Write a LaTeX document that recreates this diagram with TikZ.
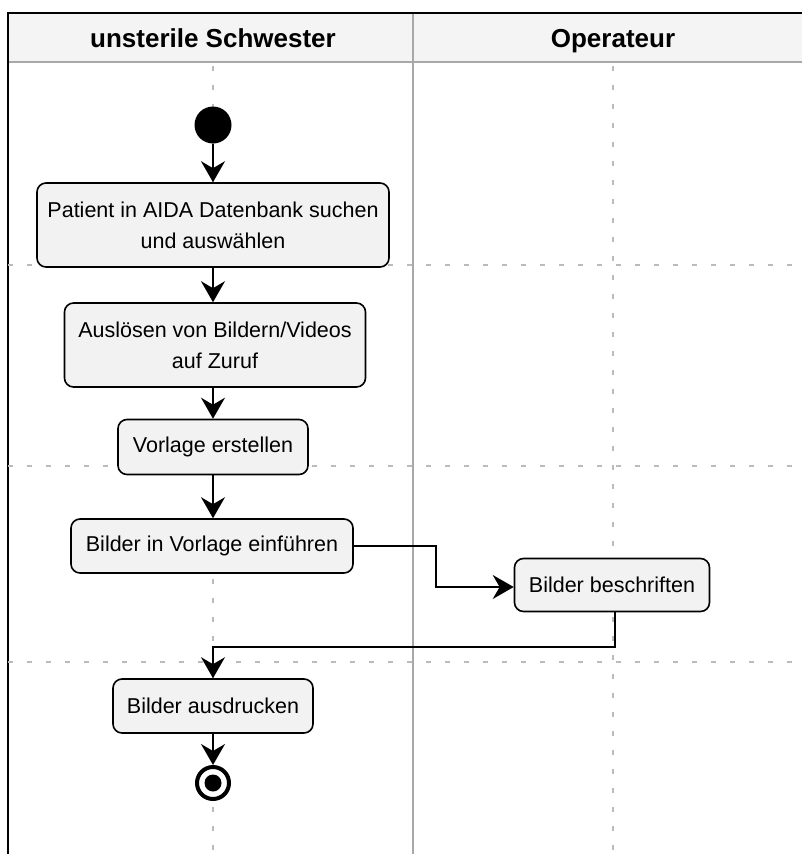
\documentclass[tikz,border=0pt]{standalone}
\usepackage{fontspec}
\setmainfont{Liberation Sans}
\usetikzlibrary{arrows.meta}
\definecolor{boxfill}{HTML}{F2F2F2}
\definecolor{hdrfill}{HTML}{F4F4F4}
\definecolor{gridc}{HTML}{BBBBBB}
\definecolor{lanec}{HTML}{A8A8A8}
\tikzset{
  actbox/.style={draw=black, line width=1.6pt, fill=boxfill, rounded corners=9pt,
    align=center, inner sep=0pt, font=\fontsize{21.5}{31}\selectfont},
  flow/.style={line width=1.8pt, -{Stealth[length=21pt,width=24pt,inset=7pt]}},
  gridline/.style={gridc, line width=1.2pt, dash pattern=on 5pt off 14pt},
  hdr/.style={font=\fontsize{26}{30}\selectfont\bfseries, inner sep=0pt, anchor=base}
}
\begin{document}
\begin{tikzpicture}[x=1pt,y=-1pt]
\useasboundingbox (0,0) rectangle (802,854);
% header
\fill[hdrfill] (8,13) rectangle (802,62);
\draw[lanec, line width=1.5pt] (8,62) -- (802,62);
\draw[lanec, line width=1.5pt] (413,13) -- (413,854);
\draw[black, line width=2pt] (8,854) -- (8,13) -- (802,13);
\node[hdr] (h1) at (213,47) {unsterile Schwester};
\node[hdr] (h2) at (613,47) {Operateur};
% grid lines
\draw[gridline] (213,66) -- (213,854);
\draw[gridline] (613,66) -- (613,854);
\draw[gridline] (8,265) -- (802,265);
\draw[gridline] (8,466) -- (802,466);
\draw[gridline] (8,662) -- (802,662);
% nodes
\node[circle, fill=black, minimum size=37pt, inner sep=0pt] (start) at (213,125) {};
\node[actbox, minimum width=352pt, minimum height=84pt] (n1) at (213,225) {Patient in AIDA Datenbank suchen\\und auswählen};
\node[actbox, minimum width=301pt, minimum height=84pt] (n2) at (215,345) {Auslösen von Bildern/Videos\\auf Zuruf};
\node[actbox, minimum width=190pt, minimum height=55pt] (n3) at (213,447) {Vorlage erstellen};
\node[actbox, minimum width=282pt, minimum height=54pt] (n4) at (212,546) {Bilder in Vorlage einführen};
\node[actbox, minimum width=195pt, minimum height=53pt] (n5) at (612,585) {Bilder beschriften};
\node[actbox, minimum width=200pt, minimum height=54pt] (n6) at (213,706) {Bilder ausdrucken};
\node[circle, draw=black, line width=4pt, fill=white, minimum size=32pt, inner sep=0pt] (end) at (213,783) {};
\fill[black] (end.center) circle (8.5);
% coordinates for bends
\coordinate (b1) at (436,546);
\coordinate (b2) at (436,587);
\coordinate (c1) at (615,647);
\coordinate (c2) at (213,647);
% connectors
\draw[flow] (start) -- (n1);
\draw[flow] (n1) -- (n2.north -| n1.south);
\draw[flow] (n2.south -| n3.north) -- (n3);
\draw[flow] (n3) -- (n4.north -| n3.south);
\draw[flow] (n4.east) -- (b1) -- (b2) -- (n5.west |- b2);
\draw[flow] (n5.south -| c1) -- (c1) -- (c2) -- (n6.north);
\draw[flow] (n6) -- (end);
\end{tikzpicture}
\end{document}
